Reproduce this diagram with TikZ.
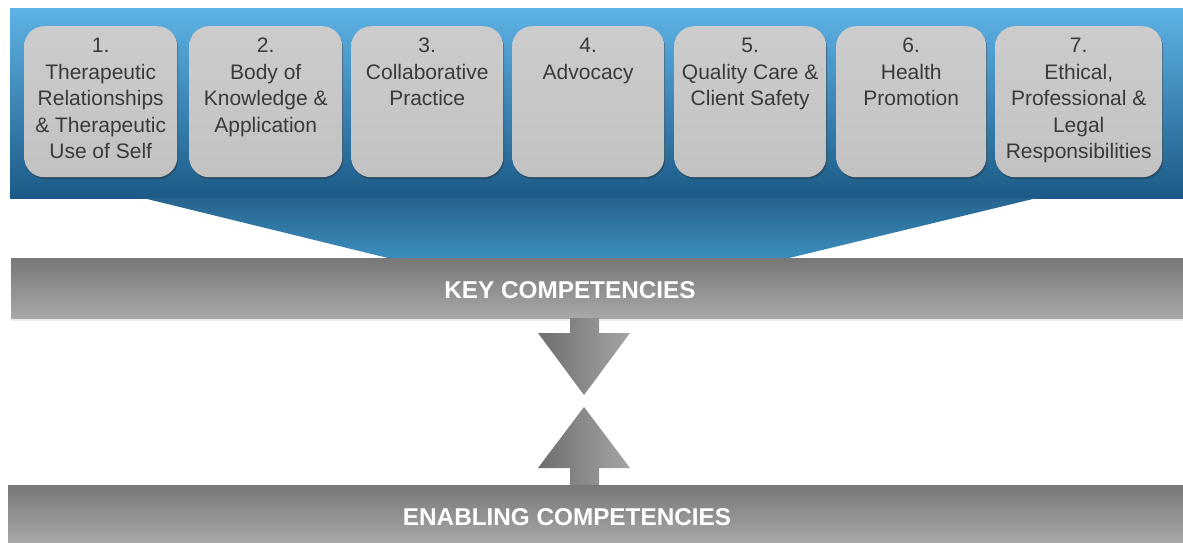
\documentclass[tikz,border=0pt]{standalone}
\usepackage{fontspec}
\setmainfont{Liberation Sans}
\usetikzlibrary{shadows}
\definecolor{bluetop}{RGB}{94,178,230}
\definecolor{bluebot}{RGB}{27,90,134}
\definecolor{traptop}{RGB}{38,100,142}
\definecolor{trapbot}{RGB}{60,142,190}
\definecolor{boxfilltop}{RGB}{204,204,204}
\definecolor{boxfillbot}{RGB}{194,194,194}
\definecolor{boxtext}{RGB}{58,58,58}
\definecolor{bartop}{RGB}{120,120,120}
\definecolor{barbot}{RGB}{168,168,168}
\definecolor{arrl}{RGB}{110,110,110}
\definecolor{arrr}{RGB}{165,165,165}
\newcommand{\cbtext}[2]{\parbox[t][151pt][t]{#1}{\centering\fontsize{21}{26.5}\selectfont\vspace{12pt}#2}}
\begin{document}
\begin{tikzpicture}[x=1pt,y=-1pt,
  compbox/.style={rounded corners=20pt, top color=boxfilltop, bottom color=boxfillbot,
    inner sep=0pt, anchor=north west, text=boxtext,
    drop shadow={shadow xshift=1pt, shadow yshift=-2pt, opacity=0.45, fill=black!80}},
  barbox/.style={top color=bartop, bottom color=barbot, inner sep=0pt, anchor=north west,
    drop shadow={shadow xshift=0pt, shadow yshift=-3pt, opacity=0.15}},
  bartext/.style={text=white, font=\fontsize{24.3}{28}\selectfont\bfseries, inner sep=0pt},
  blockarrow/.style={left color=arrl, right color=arrr}]
\useasboundingbox (0,0) rectangle (1183,543);
% blue banner
\path[top color=bluetop, bottom color=bluebot] (10,9) rectangle (1183,198);
\path[top color=traptop, bottom color=trapbot] (143,198) -- (1037,198) -- (787,258.5) -- (390,258.5) -- cycle;
% competency boxes
\node[compbox] (c1) at (24,26) {\cbtext{153pt}{1.\\Therapeutic\\Relationships\\\& Therapeutic\\Use of Self}};
\node[compbox] (c2) at (189,26) {\cbtext{153pt}{2.\\Body of\\Knowledge \&\\Application}};
\node[compbox] (c3) at (351,26) {\cbtext{152pt}{3.\\Collaborative\\Practice}};
\node[compbox] (c4) at (512,26) {\cbtext{152pt}{4.\\Advocacy}};
\node[compbox] (c5) at (674,26) {\cbtext{152pt}{5.\\Quality Care \&\\Client Safety}};
\node[compbox] (c6) at (836,26) {\cbtext{150pt}{6.\\Health\\Promotion}};
\node[compbox] (c7) at (995,26) {\cbtext{167pt}{7.\\Ethical,\\Professional \&\\Legal\\Responsibilities}};
% key competencies bar
\node[barbox, minimum width=1172pt, minimum height=60pt] (key) at (11,258) {};
\node[bartext] (keylabel) at (570,290) {KEY COMPETENCIES};
% arrows
\path[blockarrow] (570,318) -- (599,318) -- (599,333) -- (630,333) -- (584,395) -- (538,333) -- (570,333) -- cycle;
\path[blockarrow] (570,486) -- (599,486) -- (599,468) -- (630,468) -- (584,407) -- (538,468) -- (570,468) -- cycle;
% enabling competencies bar
\node[barbox, minimum width=1175pt, minimum height=58pt] (enab) at (8,485) {};
\node[bartext] (enablabel) at (567,517) {ENABLING COMPETENCIES};
\end{tikzpicture}
\end{document}
